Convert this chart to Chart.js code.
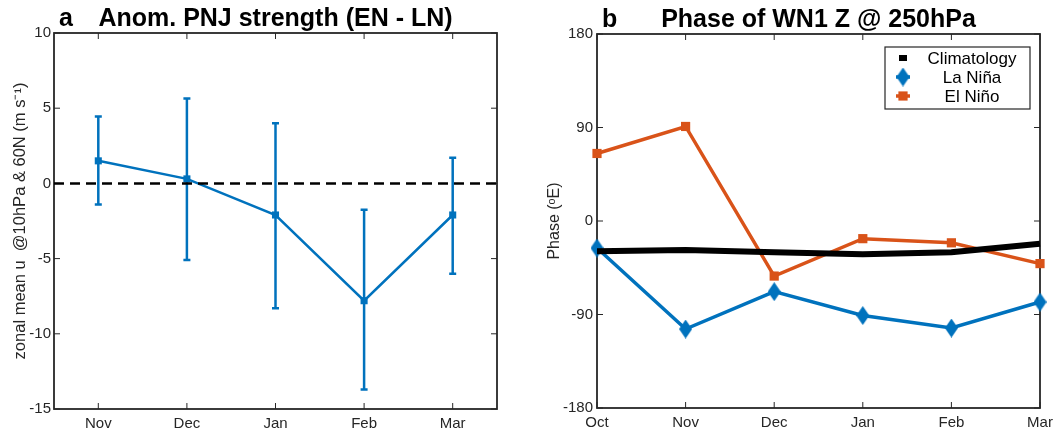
<!DOCTYPE html>
<html>
<head>
<meta charset="utf-8">
<script src="https://cdn.jsdelivr.net/npm/chart.js@4"></script>
<style>
  body { margin: 0; background: #fff; }
  #wrap { position: relative; width: 1059px; height: 431px; }
  canvas { position: absolute; top: 0; }
</style>
</head>
<body>
<div id="wrap">
  <canvas id="pnjChart" width="530" height="431" style="left:0"></canvas>
  <canvas id="phaseChart" width="529" height="431" style="left:530px"></canvas>
</div>
<script>
// panel a: PNJ strength anomaly (EN - LN)
const pnjMonths = ["Nov", "Dec", "Jan", "Feb", "Mar"];
const pnjAnom = [1.5, 0.3, -2.1, -7.8, -2.1];
const pnjLower = [-1.4, -5.1, -8.3, -13.7, -6.0];
const pnjUpper = [4.45, 5.65, 4.0, -1.75, 1.7];
const pnjRefValue = 0;

// panel b: phase of WN1 Z at 250hPa
const phaseMonths = ["Oct", "Nov", "Dec", "Jan", "Feb", "Mar"];
const climatology = [-29, -28, -30, -32, -30, -22];
const laNina = [-26, -104, -68, -91, -103, -78];
const elNino = [65, 91, -53, -17, -21, -41];

const BLUE = "#0072BD";
const ORANGE = "#D95319";
const AXIS = "#262626";
const FONT = "'Liberation Sans', Arial, Helvetica, sans-serif";

Chart.defaults.font.family = FONT;
Chart.defaults.color = AXIS;

// tall diamond marker used for La Nina
function diamond(w, h, color) {
  const c = document.createElement("canvas");
  c.width = w; c.height = h;
  const g = c.getContext("2d");
  g.fillStyle = color;
  g.beginPath();
  g.moveTo(w / 2, 0); g.lineTo(w, h / 2); g.lineTo(w / 2, h); g.lineTo(0, h / 2);
  g.closePath();
  g.fill();
  return c;
}
const ninaMarker = diamond(13, 19, BLUE);

// box around the axes
const frame = {
  id: "frame",
  beforeDatasetsDraw(chart) {
    const { ctx, chartArea: a } = chart;
    ctx.save();
    ctx.strokeStyle = AXIS;
    ctx.lineWidth = 1.8;
    ctx.strokeRect(a.left, a.top, a.right - a.left, a.bottom - a.top);
    ctx.restore();
  }
};

// matlab-style tick marks inside the box, on all four sides
const innerTicks = {
  id: "innerTicks",
  beforeDatasetsDraw(chart) {
    const { ctx, chartArea: a } = chart;
    const len = 6;
    ctx.save();
    ctx.strokeStyle = AXIS;
    ctx.lineWidth = 1;
    ctx.beginPath();
    const xs = chart.scales.x, ys = chart.scales.y;
    xs.ticks.forEach((t, i) => {
      const px = xs.getPixelForTick(i);
      ctx.moveTo(px, a.bottom); ctx.lineTo(px, a.bottom - len);
      ctx.moveTo(px, a.top); ctx.lineTo(px, a.top + len);
    });
    ys.ticks.forEach((t, i) => {
      const py = ys.getPixelForTick(i);
      ctx.moveTo(a.left, py); ctx.lineTo(a.left + len, py);
      ctx.moveTo(a.right, py); ctx.lineTo(a.right - len, py);
    });
    ctx.stroke();
    ctx.restore();
  }
};

const errorBars = {
  id: "errorBars",
  beforeDatasetsDraw(chart) {
    const { ctx } = chart;
    const ys = chart.scales.y;
    chart.data.datasets.forEach((ds, di) => {
      if (!ds.errLow) return;
      const meta = chart.getDatasetMeta(di);
      ctx.save();
      ctx.strokeStyle = ds.borderColor;
      ctx.lineWidth = 2.5;
      ctx.beginPath();
      meta.data.forEach((pt, i) => {
        const y1 = ys.getPixelForValue(ds.errLow[i]);
        const y2 = ys.getPixelForValue(ds.errHigh[i]);
        ctx.moveTo(pt.x, y1); ctx.lineTo(pt.x, y2);
        ctx.moveTo(pt.x - 3.5, y1); ctx.lineTo(pt.x + 3.5, y1);
        ctx.moveTo(pt.x - 3.5, y2); ctx.lineTo(pt.x + 3.5, y2);
      });
      ctx.stroke();
      ctx.restore();
    });
  }
};

const refLine = {
  id: "refLine",
  afterDatasetsDraw(chart, args, opts) {
    if (opts.value === undefined) return;
    const { ctx, chartArea: a } = chart;
    const py = chart.scales.y.getPixelForValue(opts.value);
    ctx.save();
    ctx.strokeStyle = "#000";
    ctx.lineWidth = 2.5;
    ctx.setLineDash([10, 6]);
    ctx.beginPath();
    ctx.moveTo(a.left, py); ctx.lineTo(a.right, py);
    ctx.stroke();
    ctx.restore();
  }
};

const panelTitle = {
  id: "panelTitle",
  afterDraw(chart, args, opts) {
    const { ctx, chartArea: a } = chart;
    ctx.save();
    ctx.fillStyle = "#000";
    ctx.font = "bold 25px " + FONT;
    ctx.textBaseline = "alphabetic";
    ctx.textAlign = "left";
    ctx.fillText(opts.letter, a.left + 5, a.top - 7);
    ctx.textAlign = "center";
    ctx.fillText(opts.text, (a.left + a.right) / 2, a.top - 7);
    ctx.restore();
  }
};

// legend box in the upper right of the axes
const boxLegend = {
  id: "boxLegend",
  afterDatasetsDraw(chart, args, opts) {
    if (!opts.show) return;
    const { ctx, chartArea: a } = chart;
    const w = 145, h = 62;
    const left = a.right - 10 - w, top = a.top + 13;
    ctx.save();
    ctx.fillStyle = "#fff";
    ctx.fillRect(left, top, w, h);
    ctx.strokeStyle = AXIS;
    ctx.lineWidth = 1.2;
    ctx.strokeRect(left, top, w, h);
    ctx.font = "17px " + FONT;
    ctx.textAlign = "center";
    ctx.textBaseline = "middle";
    chart.data.datasets.forEach((ds, i) => {
      const cy = top + 11 + i * 19;
      const mx = left + 18;
      const half = ds.pointRadius ? 7 : 4;
      ctx.strokeStyle = ds.borderColor;
      ctx.lineWidth = ds.borderWidth;
      ctx.beginPath();
      ctx.moveTo(mx - half, cy); ctx.lineTo(mx + half, cy);
      ctx.stroke();
      if (ds.pointRadius) {
        ctx.fillStyle = ds.backgroundColor;
        if (ds.pointStyle === "rect") {
          const s = ds.pointRadius * Math.SQRT1_2;
          ctx.fillRect(mx - s, cy - s, 2 * s, 2 * s);
        } else {
          ctx.drawImage(ds.pointStyle, mx - ds.pointStyle.width / 2, cy - ds.pointStyle.height / 2);
        }
      }
      ctx.fillStyle = "#000";
      ctx.fillText(ds.label, left + 87, cy + 1);
    });
    ctx.restore();
  }
};

const tickFont = { size: 15 };

new Chart(document.getElementById("pnjChart"), {
  type: "line",
  data: {
    labels: pnjMonths,
    datasets: [{
      label: "EN - LN",
      data: pnjAnom,
      errLow: pnjLower,
      errHigh: pnjUpper,
      borderColor: BLUE,
      backgroundColor: BLUE,
      borderWidth: 2.5,
      pointStyle: "rect",
      pointRadius: 5,
      pointBorderWidth: 0,
      tension: 0
    }]
  },
  options: {
    responsive: false,
    animation: false,
    layout: { padding: { top: 33, right: 33, left: 0, bottom: 0 } },
    plugins: {
      legend: { display: false },
      tooltip: { enabled: false },
      refLine: { value: pnjRefValue },
      panelTitle: { letter: "a", text: "Anom. PNJ strength (EN - LN)" }
    },
    scales: {
      x: {
        type: "category",
        offset: true,
        grid: { display: false, drawTicks: false },
        border: { display: false },
        ticks: { font: tickFont, padding: 6, maxRotation: 0, autoSkip: false },
        afterFit: s => { s.height = 22; }
      },
      y: {
        min: -15,
        max: 10,
        grid: { display: false, drawTicks: false },
        border: { display: false },
        ticks: { stepSize: 5, font: tickFont, padding: 3 },
        title: {
          display: true,
          text: "zonal mean u  @10hPa & 60N (m s\u207B\u00B9)",
          font: { size: 16.5 },
          padding: { top: 11, bottom: 0 }
        },
        afterFit: s => { s.width = 54; }
      }
    }
  },
  plugins: [frame, innerTicks, errorBars, refLine, panelTitle]
});

new Chart(document.getElementById("phaseChart"), {
  type: "line",
  data: {
    labels: phaseMonths,
    datasets: [
      {
        label: "Climatology",
        data: climatology,
        borderColor: "#000",
        backgroundColor: "#000",
        borderWidth: 6,
        pointRadius: 0,
        tension: 0,
        clip: false
      },
      {
        label: "La Niña",
        data: laNina,
        borderColor: BLUE,
        backgroundColor: BLUE,
        borderWidth: 3.5,
        pointStyle: ninaMarker,
        pointRadius: 8,
        tension: 0,
        clip: false
      },
      {
        label: "El Niño",
        data: elNino,
        borderColor: ORANGE,
        backgroundColor: ORANGE,
        borderWidth: 3.5,
        pointStyle: "rect",
        pointRadius: 6.5,
        pointBorderWidth: 0,
        tension: 0,
        clip: false
      }
    ]
  },
  options: {
    responsive: false,
    animation: false,
    layout: { padding: { top: 34, right: 19, left: 0, bottom: 0 } },
    plugins: {
      legend: { display: false },
      tooltip: { enabled: false },
      boxLegend: { show: true },
      panelTitle: { letter: "b", text: "Phase of WN1 Z @ 250hPa" }
    },
    scales: {
      x: {
        type: "category",
        offset: false,
        grid: { display: false, drawTicks: false },
        border: { display: false },
        ticks: { font: tickFont, padding: 6, maxRotation: 0, autoSkip: false },
        afterFit: s => { s.height = 23; }
      },
      y: {
        min: -180,
        max: 180,
        grid: { display: false, drawTicks: false },
        border: { display: false },
        ticks: { stepSize: 90, font: tickFont, padding: 4 },
        title: {
          display: true,
          text: "Phase (\u1D52E)",
          font: { size: 16 },
          padding: { top: 15, bottom: 0 }
        },
        afterFit: s => { s.width = 67; }
      }
    }
  },
  plugins: [frame, innerTicks, boxLegend, panelTitle]
});
</script>
</body>
</html>
